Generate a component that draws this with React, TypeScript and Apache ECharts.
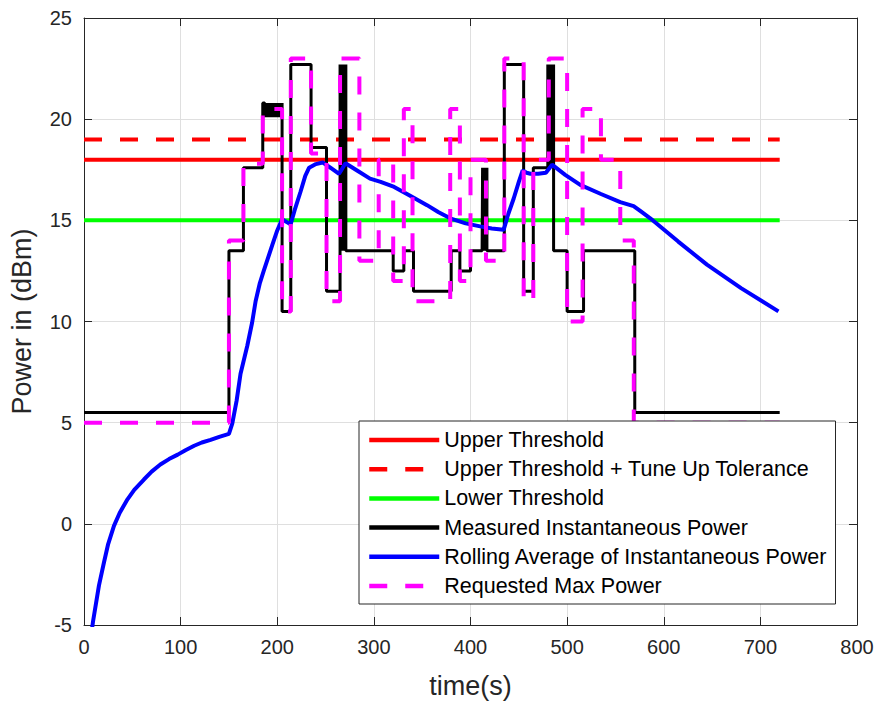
import React, { useEffect, useRef } from "react";
import * as echarts from "echarts";

// ---- data ----
const upperThreshold = 18;
const upperTolerance = 19;
const lowerThreshold = 15;
const tStart = 0;
const tEnd = 720;

const xMin = 0;
const xMax = 800;
const xInterval = 100;
const yMin = -5;
const yMax = 25;
const yInterval = 5;

const seriesNames = [
  "Upper Threshold",
  "Upper Threshold + Tune Up Tolerance",
  "Lower Threshold",
  "Measured Instantaneous Power",
  "Rolling Average of Instantaneous Power",
  "Requested Max Power",
];

const measuredPower: [number, number][] = [
  [0, 5.5], [150, 5.5], [150, 13.5], [165, 13.5], [165, 17.6], [185, 17.6], [185, 20.8], [187, 20.8],
  [188, 20.1], [189, 20.8], [190, 20.1], [191, 20.8], [192, 20.1], [193, 20.8], [194, 20.1], [195, 20.8],
  [196, 20.1], [197, 20.8], [198, 20.1], [199, 20.8], [200, 20.1], [201, 20.8], [202, 20.1], [203, 20.8],
  [204, 20.1], [205, 20.8],
  [205, 10.5], [214, 10.5], [214, 22.7], [235, 22.7], [235, 18.6], [251, 18.6], [251, 11.5], [265, 11.5], [265, 22.7],
  [266, 13.5], [266.5, 22.7], [267.5, 13.5], [268, 22.7], [269, 13.5], [269.5, 22.7], [270.5, 13.5], [271, 22.7], [271, 13.5],
  [320, 13.5], [320, 12.5], [331, 12.5], [331, 13.5], [341, 13.5], [341, 11.5], [380, 11.5], [380, 13.5],
  [389, 13.5], [389, 12.5], [400, 12.5], [400, 13.5], [412, 13.5],
  [412.5, 17.6], [413.5, 13.5], [414, 17.6], [415, 13.5], [415.5, 17.6], [416.5, 13.5], [417, 17.6], [417, 13.5],
  [435, 13.5], [435, 22.7], [455, 22.7], [455, 11.5], [465, 11.5], [465, 17.6], [480, 17.6], [480, 22.7],
  [481, 17.6], [481.5, 22.7], [482.5, 17.6], [483, 22.7], [484, 17.6], [484.5, 22.7], [485.5, 17.6], [486, 22.7], [486, 13.5],
  [500, 13.5], [500, 10.5], [517, 10.5], [517, 13.5], [570, 13.5], [570, 5.5], [720, 5.5],
];

const rollingAverage: [number, number][] = [
  [6, -6.0], [9.3, -4.84], [15.5, -3.04], [20.7, -1.9], [25, -1.0], [31, -0.1], [37, 0.55], [45, 1.21],
  [52, 1.68], [62, 2.19], [70, 2.58], [79, 2.93], [88, 3.2], [97, 3.42], [105, 3.64], [114, 3.86],
  [122, 4.02], [131, 4.15], [140, 4.3], [150, 4.45], [153.5, 4.97], [158, 6.1], [162, 7.42], [169, 8.8],
  [174, 9.95], [177.6, 11.0], [182, 11.9], [186, 12.5], [195, 13.8], [200, 14.5], [205, 15.05], [213.8, 14.8],
  [218, 15.5], [224, 16.4], [229, 17.2], [233, 17.6], [240, 17.78], [247, 17.86], [255, 17.6], [264, 17.3],
  [270.6, 17.82], [283, 17.45], [296, 17.06], [307, 16.9], [321, 16.65], [338, 16.2], [355, 15.75], [367, 15.4],
  [379, 15.1], [395, 14.85], [410, 14.7], [422, 14.6], [434.3, 14.53], [439, 15.3], [444.7, 16.08], [450, 16.9],
  [454, 17.47], [458, 17.35], [462, 17.3], [470, 17.3], [478, 17.35], [484.4, 17.75], [498, 17.25], [513.6, 16.75],
  [535, 16.3], [555, 15.9], [568.8, 15.7], [576, 15.45], [586, 15.1], [615, 13.95], [644.7, 12.81], [680, 11.65],
  [718.7, 10.5],
];

const requestedMaxPower: [number, number][] = [
  [0, 5], [150, 5], [150, 14], [165, 14], [165, 17.8], [185, 17.8], [185, 20.5], [205, 20.5], [205, 10.5],
  [214, 10.5], [214, 23], [235, 23], [235, 18.3], [251, 18.3], [251, 11], [265, 11], [265, 23], [285, 23],
  [285, 13], [305, 13], [305, 18], [320, 18], [320, 12], [331, 12], [331, 20.5], [340, 20.5], [340, 11],
  [379, 11], [379, 20.5], [389, 20.5], [389, 12], [400, 12], [400, 18], [416, 18], [416, 13], [435, 13],
  [435, 23], [455, 23], [455, 11], [465, 11], [465, 18], [481, 18], [481, 23], [500, 23], [500, 10],
  [516, 10], [516, 20.5], [535, 20.5], [535, 18], [555, 18], [555, 14], [569, 14], [569, 5], [720, 5],
];

const FONT = "'Liberation Sans', Arial, Helvetica, sans-serif";
const AXIS_COLOR = "#262626";
const GRID_COLOR = "#dfdfdf";

export default function App() {
  const ref = useRef<HTMLDivElement>(null);

  useEffect(() => {
    if (!ref.current) return;
    const chart = echarts.init(ref.current, undefined, { renderer: "svg" });

    const axisCommon = {
      type: "value" as const,
      axisLine: { show: true, onZero: false, lineStyle: { color: AXIS_COLOR, width: 1 } },
      axisTick: { show: true, inside: true, length: 8, lineStyle: { color: AXIS_COLOR, width: 1 } },
    };

    const option: any = {
      animation: false,
      backgroundColor: "#ffffff",
      grid: { left: 83, right: 22, top: 18, bottom: 74, containLabel: false },
      xAxis: [
        {
          ...axisCommon,
          min: xMin,
          max: xMax,
          interval: xInterval,
          position: "bottom",
          axisLabel: { fontSize: 20, color: AXIS_COLOR, margin: 12, fontFamily: FONT },
          splitLine: { show: true, lineStyle: { color: GRID_COLOR, width: 1 } },
          name: "time(s)",
          nameLocation: "middle",
          nameGap: 47,
          nameTextStyle: { fontSize: 27, color: AXIS_COLOR, fontFamily: FONT },
        },
        {
          ...axisCommon,
          min: xMin,
          max: xMax,
          interval: xInterval,
          position: "top",
          axisLabel: { show: false },
          splitLine: { show: false },
        },
      ],
      yAxis: [
        {
          ...axisCommon,
          min: yMin,
          max: yMax,
          interval: yInterval,
          position: "left",
          axisLabel: { fontSize: 20, color: AXIS_COLOR, margin: 12, fontFamily: FONT },
          splitLine: { show: true, lineStyle: { color: GRID_COLOR, width: 1 } },
          name: "Power in (dBm)",
          nameLocation: "middle",
          nameGap: 49,
          nameTextStyle: { fontSize: 27, color: AXIS_COLOR, fontFamily: FONT },
        },
        {
          ...axisCommon,
          min: yMin,
          max: yMax,
          interval: yInterval,
          position: "right",
          axisLabel: { show: false },
          splitLine: { show: false },
        },
      ],
      legend: {
        orient: "vertical",
        left: 359,
        top: 421,
        itemWidth: 70,
        itemHeight: 22,
        itemGap: 7.2,
        padding: [8, 8, 7, 8],
        backgroundColor: "#ffffff",
        borderColor: AXIS_COLOR,
        borderWidth: 1,
        borderRadius: 0,
        selectedMode: false,
        z: 10,
        itemStyle: { opacity: 0 },
        lineStyle: { width: 4.5 },
        textStyle: { fontSize: 21.5, color: "#000000", fontFamily: FONT, lineHeight: 22 },
        data: seriesNames,
      },
      series: [
        {
          name: seriesNames[0],
          type: "line",
          symbol: "none",
          data: [[tStart, upperThreshold], [tEnd, upperThreshold]],
          lineStyle: { color: "#ff0000", width: 4 },
          itemStyle: { color: "#ff0000" },
        },
        {
          name: seriesNames[1],
          type: "line",
          symbol: "none",
          data: [[tStart, upperTolerance], [tEnd, upperTolerance]],
          lineStyle: { color: "#ff0000", width: 4, type: [18, 18] },
          itemStyle: { color: "#ff0000" },
        },
        {
          name: seriesNames[2],
          type: "line",
          symbol: "none",
          data: [[tStart, lowerThreshold], [tEnd, lowerThreshold]],
          lineStyle: { color: "#00ff00", width: 4 },
          itemStyle: { color: "#00ff00" },
        },
        {
          name: seriesNames[3],
          type: "line",
          symbol: "none",
          data: measuredPower,
          lineStyle: { color: "#000000", width: 3 },
          itemStyle: { color: "#000000" },
        },
        {
          name: seriesNames[4],
          type: "line",
          symbol: "none",
          data: rollingAverage,
          lineStyle: { color: "#0000ff", width: 4 },
          itemStyle: { color: "#0000ff" },
        },
        {
          name: seriesNames[5],
          type: "line",
          symbol: "none",
          data: requestedMaxPower,
          lineStyle: { color: "#ff00ff", width: 4, type: [18, 18] },
          itemStyle: { color: "#ff00ff" },
        },
      ],
    };

    chart.setOption(option);
    return () => chart.dispose();
  }, []);

  return (
    <div
      ref={ref}
      style={{ position: "fixed", left: 0, top: 0, width: 879, height: 704, background: "#fff" }}
    />
  );
}
